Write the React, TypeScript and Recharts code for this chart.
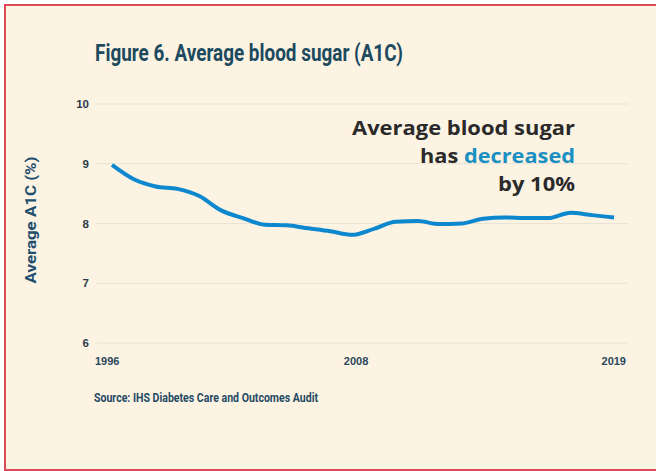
import { LineChart, Line, XAxis, YAxis, CartesianGrid } from 'recharts';

const years = [
    1996, 1997, 1998, 1999, 2000, 2001, 2002, 2003, 2004, 2005, 2006, 2007,
    2008, 2009, 2010, 2011, 2012, 2013, 2014, 2015, 2016, 2017, 2018, 2019,
];
const avgA1c = [
    8.98, 8.74, 8.62, 8.58, 8.46, 8.22, 8.09, 7.98, 7.97, 7.92, 7.87, 7.81,
    7.91, 8.03, 8.04, 7.99, 8.0, 8.08, 8.1, 8.09, 8.09, 8.18, 8.14, 8.1,
];
const yTicks = [6, 7, 8, 9, 10];
// where the reference puts its three year labels, and what they read
const xTickAt = [1996, 2007, 2019];
const xTickText = ['1996', '2008', '2019'];

const data = years.map((year, i) => ({ year, a1c: avgA1c[i] }));

const W = 656;
const H = 471;

function XTick({ x, y, payload, index }: any) {
    const anchor = index === 0 ? 'start' : index === xTickAt.length - 1 ? 'end' : 'middle';
    const shift = index === 0 ? -17 : index === xTickAt.length - 1 ? 12 : 4;
    return (
        <text
            x={x + shift}
            y={y + 14}
            textAnchor={anchor}
            fill="#2a475c"
            fontSize={11}
            fontWeight={700}
            fontFamily="'Liberation Sans', Arial, sans-serif"
        >
            {xTickText[xTickAt.indexOf(payload.value)]}
        </text>
    );
}

export default function App() {
    return (
        <div style={{ position: 'fixed', left: 0, top: 0, width: W, height: H, overflow: 'hidden', background: '#fff' }}>
            <div
                style={{
                    position: 'absolute',
                    left: 4,
                    top: 4,
                    width: 720,
                    height: 463,
                    background: '#fcf3e3',
                    border: '2px solid #da4a5a',
                }}
            />
            <div style={{ position: 'absolute', left: 0, top: 0 }}>
                <LineChart width={W} height={H} data={data} margin={{ top: 104, right: 28, bottom: 98, left: 0 }}>
                    <CartesianGrid vertical={false} stroke="#e9e2d5" strokeWidth={1} />
                    <XAxis
                        dataKey="year"
                        type="number"
                        domain={[1996, 2019]}
                        ticks={xTickAt}
                        padding={{ left: 15, right: 14 }}
                        axisLine={false}
                        tickLine={false}
                        height={30}
                        tick={<XTick />}
                        interval={0}
                    />
                    <YAxis
                        domain={[6, 10]}
                        ticks={yTicks}
                        width={97}
                        axisLine={false}
                        tickLine={false}
                        tick={{ fill: '#2b3c4a', fontSize: 11.5, fontWeight: 700, fontFamily: "'Liberation Sans', Arial, sans-serif" }}
                    />
                    <Line
                        type="monotone"
                        dataKey="a1c"
                        stroke="#0d88cf"
                        strokeWidth={4}
                        dot={false}
                        isAnimationActive={false}
                    />
                </LineChart>
            </div>
            <svg width={W} height={H} style={{ position: 'absolute', left: 0, top: 0, pointerEvents: 'none' }}>
                <text
                    x={95}
                    y={61}
                    fill="#1c4a5e"
                    fontSize={24}
                    fontWeight={700}
                    fontFamily="Roboto, sans-serif"
                    textLength={308}
                    lengthAdjust="spacingAndGlyphs"
                >
                    Figure 6. Average blood sugar (A1C)
                </text>
                <text
                    transform="translate(36 220) rotate(-90)"
                    textAnchor="middle"
                    fill="#1f4e6e"
                    fontSize={15}
                    fontWeight={700}
                    fontFamily="Roboto, sans-serif"
                    textLength={127}
                    lengthAdjust="spacingAndGlyphs"
                >
                    Average A1C (%)
                </text>
                <g fontFamily="'Open Sans', sans-serif" fontSize={20} fontWeight={700} fill="#2b2a2a" textAnchor="end">
                    <text x={575} y={135} textLength={223} lengthAdjust="spacingAndGlyphs">
                        Average blood sugar
                    </text>
                    <text x={575} y={163} textLength={155} lengthAdjust="spacingAndGlyphs">
                        has <tspan fill="#1a8fc2">decreased</tspan>
                    </text>
                    <text x={575} y={191} textLength={77} lengthAdjust="spacingAndGlyphs">
                        by 10%
                    </text>
                </g>
                <text
                    x={94}
                    y={402}
                    fill="#1f4a63"
                    fontSize={12}
                    fontWeight={700}
                    fontFamily="Roboto, sans-serif"
                    textLength={224}
                    lengthAdjust="spacingAndGlyphs"
                >
                    Source: IHS Diabetes Care and Outcomes Audit
                </text>
            </svg>
        </div>
    );
}
